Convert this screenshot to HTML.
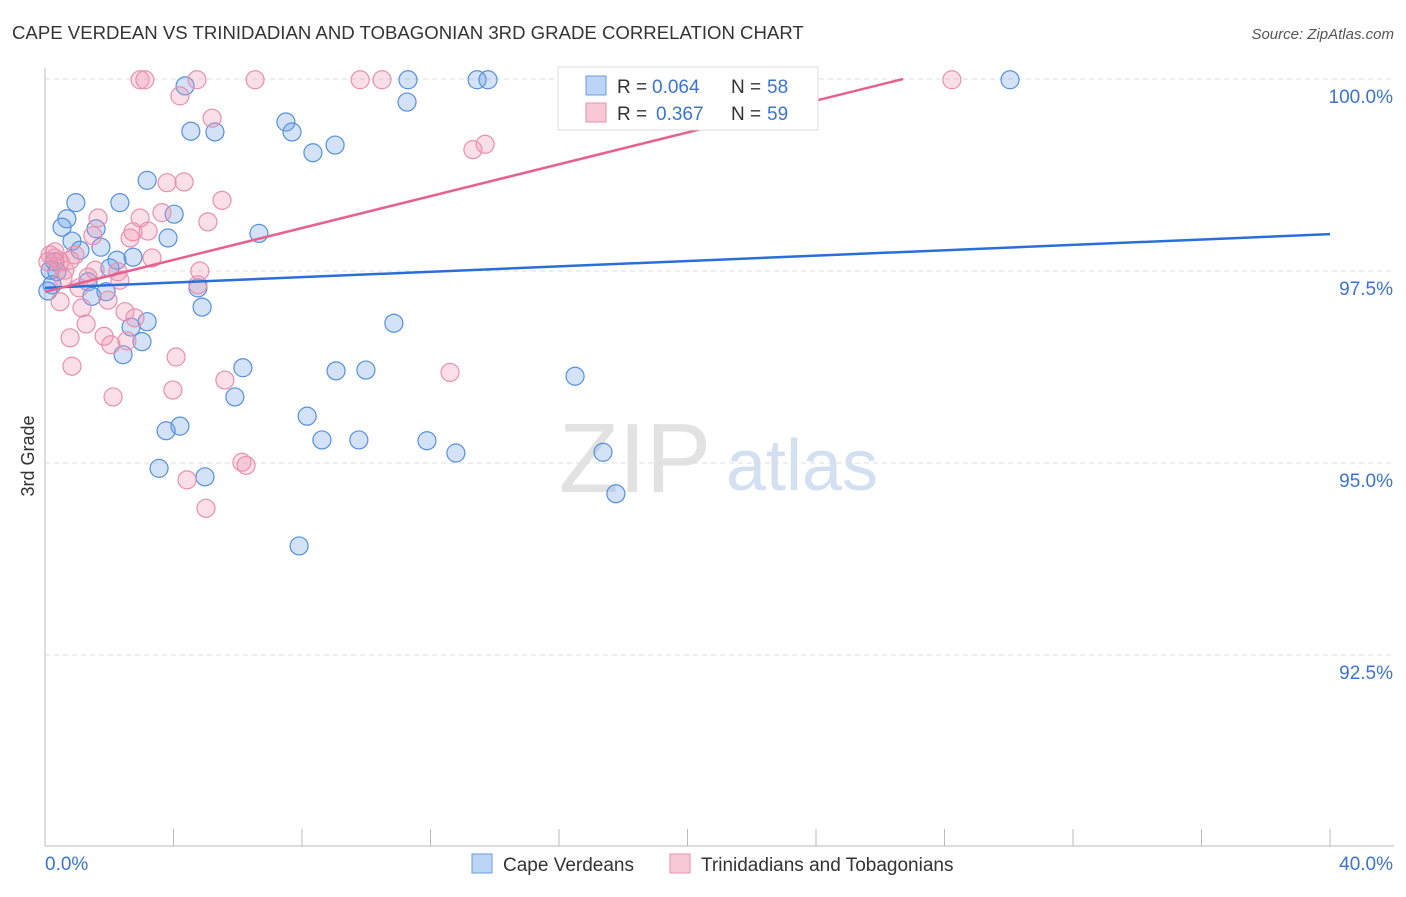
<!DOCTYPE html>
<html><head><meta charset="utf-8"><style>
body{margin:0;background:#fff;font-family:"Liberation Sans",sans-serif;}
svg text{font-family:"Liberation Sans",sans-serif;}
</style></head><body>
<svg id="c" width="1406" height="892">
<text x="12" y="39" font-size="18.6" fill="#333">CAPE VERDEAN VS TRINIDADIAN AND TOBAGONIAN 3RD GRADE CORRELATION CHART</text>
<text x="1394" y="39" font-size="15" fill="#555" text-anchor="end" font-style="italic">Source: ZipAtlas.com</text>
<text x="34" y="456" font-size="18" fill="#333" transform="rotate(-90 34 456)" text-anchor="middle">3rd Grade</text>
<g><text x="635" y="492" font-size="98" fill="#e2e2e2" font-family="Liberation Serif" text-anchor="middle">ZIP</text><text x="802" y="490" font-size="72" fill="#d3e0f2" text-anchor="middle">atlas</text></g>
<g id="grid"></g><g id="marks"></g><g id="lines"></g>
<g>
<rect x="558" y="67" width="260" height="63" fill="#fff" stroke="#ddd"/>
<rect x="586" y="76" width="20" height="19" fill="#bcd4f5" stroke="#6a9ee0"/>
<text x="617" y="93" font-size="19" fill="#333">R =</text>
<text x="652" y="93" font-size="19" fill="#3b74d0">0.064</text>
<text x="731" y="93" font-size="19" fill="#333">N =</text>
<text x="767" y="93" font-size="19" fill="#3b74d0">58</text>
<rect x="586" y="103" width="20" height="19" fill="#f8c8d6" stroke="#e893ae"/>
<text x="617" y="120" font-size="19" fill="#333">R =</text>
<text x="656" y="120" font-size="19" fill="#3b74d0">0.367</text>
<text x="731" y="120" font-size="19" fill="#333">N =</text>
<text x="767" y="120" font-size="19" fill="#3b74d0">59</text>
</g>
<g>
<rect x="472" y="854" width="20" height="19" fill="#bcd4f5" stroke="#6a9ee0"/>
<text x="503" y="871" font-size="19" fill="#333">Cape Verdeans</text>
<rect x="670" y="854" width="20" height="19" fill="#f8c8d6" stroke="#e893ae"/>
<text x="701" y="871" font-size="19" fill="#333">Trinidadians and Tobagonians</text>
</g>
</svg>
<script>
const xTicks=[0,4,8,12,16,20,24,28,32,36,40];
const yTicks=[100,97.5,95,92.5];
const yTickLabels=["100.0%","97.5%","95.0%","92.5%"];
const blueX=[4.36,11.30,13.45,13.79,30.04,21.91,11.27,4.54,5.29,7.50,7.69,8.34,9.03,3.18,0.96,2.33,0.68,4.02,0.53,1.59,6.66,0.84,3.83,1.74,1.09,2.74,2.24,2.02,0.31,0.16,0.37,0.22,1.34,1.46,1.90,4.76,4.89,2.68,3.18,3.02,2.43,10.86,6.16,9.06,9.99,16.50,5.91,8.16,4.20,3.77,8.62,9.77,11.89,12.79,17.37,3.55,4.98,17.77,7.91,0.09];
const blueY=[99.91,99.99,99.99,99.99,99.99,99.99,99.70,99.32,99.31,99.44,99.31,99.04,99.14,98.68,98.39,98.39,98.18,98.24,98.07,98.05,97.99,97.89,97.93,97.81,97.77,97.68,97.64,97.54,97.62,97.51,97.49,97.32,97.36,97.17,97.23,97.28,97.03,96.77,96.84,96.58,96.41,96.82,96.24,96.20,96.21,96.13,95.86,95.61,95.48,95.42,95.30,95.30,95.29,95.13,95.14,94.93,94.82,94.60,93.92,97.24];
const pinkX=[2.96,3.11,4.73,6.54,9.81,10.49,28.23,4.20,5.20,13.32,13.70,3.80,4.33,5.51,1.65,2.96,3.64,5.07,2.65,2.74,3.21,1.49,3.33,0.93,0.16,0.31,0.47,0.62,0.56,1.56,2.27,4.82,4.76,1.06,1.34,1.96,0.47,1.15,2.49,2.80,1.28,1.84,2.05,2.55,0.78,0.84,4.08,2.12,3.98,5.60,12.61,6.13,6.26,4.42,5.01,2.33,0.78,0.31,0.09];
const pinkY=[99.99,99.99,99.99,99.99,99.99,99.99,99.99,99.78,99.49,99.08,99.15,98.65,98.66,98.42,98.19,98.19,98.26,98.14,97.93,98.01,98.02,97.96,97.67,97.71,97.71,97.67,97.62,97.51,97.41,97.51,97.49,97.50,97.32,97.28,97.42,97.12,97.10,97.02,96.97,96.89,96.81,96.65,96.54,96.59,96.63,96.26,96.38,95.86,95.95,96.08,96.18,95.01,94.97,94.78,94.41,97.38,97.64,97.75,97.62];
const blueTrend=[97.28,97.98];
const pinkTrend=[97.23,0.1037];
const NS="http://www.w3.org/2000/svg";
const X=v=>45+v/40*1285, Y=v=>79+(100-v)/2.5*192;
function mk(p,t,a){const e=document.createElementNS(NS,t);for(const k in a)e.setAttribute(k,a[k]);p.appendChild(e);return e;}
const g=document.getElementById('grid');
const ax=mk(g,'line',{x1:45,y1:68,x2:45,y2:846,stroke:'#bbb'});


const bx=mk(g,'line',{x1:45,y1:846,x2:1394,y2:846,stroke:'#bbb'});


yTicks.forEach((v,i)=>{
 const l=mk(g,'line',{x1:45,y1:Y(v),x2:1394,y2:Y(v),stroke:'#ddd','stroke-dasharray':'5,4'});
 
 
 const t=mk(g,'text',{x:1393,y:Y(v)+24,'font-size':19,fill:'#3b74d0','text-anchor':'end'});t.textContent=yTickLabels[i];
 
 
});
xTicks.forEach(v=>{const l=mk(g,'line',{x1:X(v),y1:829,x2:X(v),y2:846,stroke:'#bbb'});
 
 });
const t0=mk(g,'text',{x:45,y:870,'font-size':19,fill:'#3b74d0'});t0.textContent='0.0%';


const t1=mk(g,'text',{x:1393,y:870,'font-size':19,fill:'#3b74d0','text-anchor':'end'});t1.textContent='40.0%';


const m=document.getElementById('marks');
blueX.forEach((x,i)=>{const c=mk(m,'circle',{cx:X(x),cy:Y(blueY[i]),r:9,fill:'rgba(110,160,230,0.3)',stroke:'#5590dd','stroke-width':1.2});
 
 });
pinkX.forEach((x,i)=>{const c=mk(m,'circle',{cx:X(x),cy:Y(pinkY[i]),r:9,fill:'rgba(240,150,180,0.3)',stroke:'#e890ad','stroke-width':1.2});
 
 });
const L=document.getElementById('lines');
const bl=mk(L,'line',{x1:X(0),y1:Y(blueTrend[0]),x2:X(40),y2:Y(blueTrend[1]),stroke:'#2a6fd6','stroke-width':2.5});


const xe=(100-pinkTrend[0])/pinkTrend[1];
const pl=mk(L,'line',{x1:X(0),y1:Y(pinkTrend[0]),x2:X(xe),y2:Y(100),stroke:'#e8608e','stroke-width':2.5});


</script>
</body></html>
